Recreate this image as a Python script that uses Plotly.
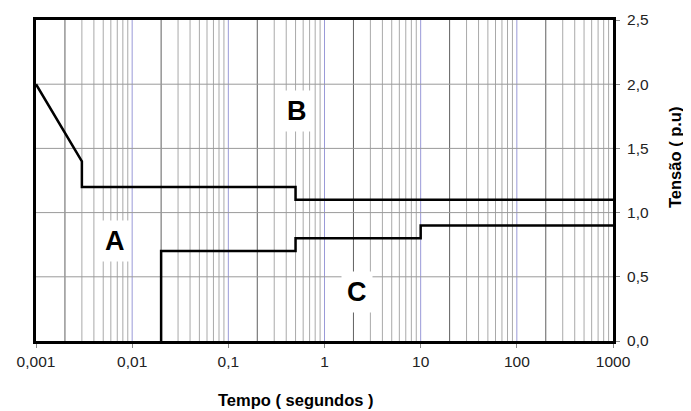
import plotly.graph_objects as go
import numpy as np

# Data
curve_b_x = [0.001, 0.003, 0.003, 0.5, 0.5, 1000]
curve_b_y = [2.0, 1.4, 1.2, 1.2, 1.1, 1.1]
curve_c_x = [0.02, 0.02, 0.5, 0.5, 10, 10, 1000]
curve_c_y = [0.0, 0.7, 0.7, 0.8, 0.8, 0.9, 0.9]
x_tickvals = [0.001, 0.01, 0.1, 1, 10, 100, 1000]
x_ticktext = ["0,001", "0,01", "0,1", "1", "10", "100", "1000"]
y_tickvals = [0, 0.5, 1.0, 1.5, 2.0, 2.5]
y_ticktext = ["0,0", "0,5", "1,0", "1,5", "2,0", "2,5"]
region_labels = ["A", "B", "C"]
region_x = [0.0066, 0.52, 2.2]
region_y = [0.78, 1.79, 0.38]

FONT = "Liberation Sans, Arial"
# page body has an 8px margin; figure is sized to the visible area
W, H = 683, 403
ML, MT, PW, PH = 28, 12, 577, 321

fig = go.Figure()

shapes = []
for dec in [0.001, 0.01, 0.1, 1, 10, 100]:
    for k in range(2, 10):
        xv = dec * k
        col = "#606060" if k == 2 else "#a9a9a9"
        shapes.append(dict(type="line", xref="x", yref="paper", x0=xv, x1=xv, y0=0, y1=1,
                           line=dict(color=col, width=1), layer="below"))
for xv in [0.01, 0.1, 1, 10, 100]:
    shapes.append(dict(type="line", xref="x", yref="paper", x0=xv, x1=xv, y0=0, y1=1,
                       line=dict(color="#9a9ad8", width=1), layer="below"))
for yv in [0.5, 1.0, 1.5, 2.0]:
    shapes.append(dict(type="line", xref="paper", yref="y", x0=0, x1=1, y0=yv, y1=yv,
                       line=dict(color="#9a9a9a", width=1), layer="below"))

fig.add_trace(go.Scatter(x=curve_b_x, y=curve_b_y, mode="lines",
                         line=dict(color="black", width=2.5), showlegend=False))
fig.add_trace(go.Scatter(x=curve_c_x, y=curve_c_y, mode="lines",
                         line=dict(color="black", width=2.5), showlegend=False))

annotations = []
for lbl, xv, yv in zip(region_labels, region_x, region_y):
    annotations.append(dict(x=np.log10(xv), y=yv, xref="x", yref="y", text="<b>%s</b>" % lbl,
                            showarrow=False, bgcolor="white", borderpad=5,
                            font=dict(family=FONT, size=27, color="black")))
annotations.append(dict(x=(296 - 36) / PW, y=-(400 - 341) / PH, xref="paper", yref="paper",
                        xanchor="center", yanchor="middle",
                        text="<b>Tempo ( segundos )</b>", showarrow=False,
                        font=dict(family=FONT, size=16.5, color="black")))
annotations.append(dict(x=(675 - 36) / PW, y=(341 - 158) / PH, xref="paper", yref="paper",
                        xanchor="center", yanchor="middle",
                        text="<b>Tensão ( p.u)</b>", textangle=-90, showarrow=False,
                        font=dict(family=FONT, size=16.5, color="black")))

fig.update_layout(
    width=W, height=H,
    margin=dict(l=ML, r=W - ML - PW, t=MT, b=H - MT - PH, autoexpand=False),
    paper_bgcolor="white", plot_bgcolor="white",
    shapes=shapes, annotations=annotations,
    xaxis=dict(type="log", range=[-3, 3], tickvals=x_tickvals, ticktext=x_ticktext,
               showgrid=False, zeroline=False, showline=True, linecolor="black", linewidth=3,
               mirror=True, ticks="outside", ticklen=4, tickcolor="#888888",
               tickfont=dict(family=FONT, size=15.5, color="#222222")),
    yaxis=dict(range=[0, 2.5], side="right", tickvals=y_tickvals, ticktext=y_ticktext,
               showgrid=False, zeroline=False, showline=True, linecolor="black", linewidth=3,
               mirror=True, ticks="outside", ticklen=4, tickcolor="#888888",
               ticklabelstandoff=4,
               tickfont=dict(family=FONT, size=15.5, color="#222222")),
)

fig.write_html("out.html")
